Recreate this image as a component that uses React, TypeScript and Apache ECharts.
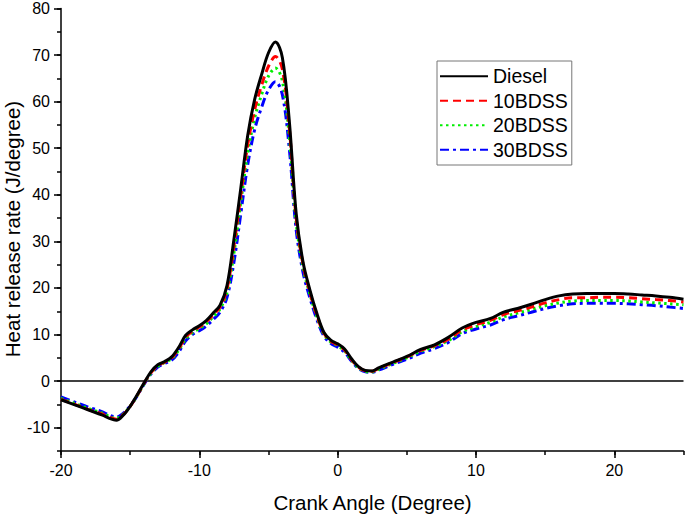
import React, { useEffect, useRef } from "react";
import * as echarts from "echarts";

const crankAngle = [
  -20, -19, -18, -17, -16.5, -16, -15.5, -15, -14.5, -14, -13.5, -13, -12.5, -12, -11.5, -11, -10.5, -10,
  -9.5, -9, -8.5, -8, -7.5, -7, -6.5, -6, -5.5, -5, -4.5, -4, -3.5, -3, -2.5, -2, -1.5, -1, -0.5, 0,
  0.5, 1, 1.5, 2, 2.5, 3, 4, 5, 6, 7, 8, 9, 10, 11, 12, 13, 14, 15, 16, 17, 18, 19, 20, 21, 22, 23, 24, 25,
];

const diesel = [
  -4.0, -5.1, -6.2, -7.3, -8.0, -8.4, -7.3, -5.4, -3.0, -0.4, 2.0, 3.5, 4.2, 5.2, 7.2, 9.8, 11.0, 11.9,
  13.0, 14.6, 16.3, 20.5, 30.4, 41.5, 52.8, 60.5, 65.8, 70.5, 72.8, 69.5, 56.0, 36.0, 25.5, 19.5, 14.5, 10.5, 8.8, 8.0,
  6.9, 4.8, 3.1, 2.3, 2.2, 2.9, 4.1, 5.3, 6.8, 7.8, 9.4, 11.4, 12.6, 13.4, 14.8, 15.6, 16.5, 17.5, 18.3, 18.7, 18.8, 18.8, 18.8, 18.7, 18.5, 18.3, 18.0, 17.6,
];

const bdss10 = [
  -3.9, -5.0, -6.1, -7.1, -7.8, -8.2, -7.2, -5.4, -3.1, -0.5, 1.8, 3.3, 4.1, 5.0, 6.9, 9.4, 10.7, 11.6,
  12.7, 14.2, 15.9, 19.8, 29.0, 40.0, 50.8, 58.3, 63.5, 67.6, 69.7, 67.0, 54.5, 35.0, 25.0, 19.0, 14.1, 10.3, 8.6, 7.8,
  6.7, 4.6, 3.0, 2.2, 2.1, 2.8, 4.0, 5.2, 6.6, 7.6, 9.0, 11.0, 12.1, 13.0, 14.3, 15.1, 15.9, 16.8, 17.5, 17.9, 17.9, 18.0, 18.0, 17.9, 17.7, 17.5, 17.3, 17.0,
];

const bdss20 = [
  -3.7, -4.8, -5.9, -6.9, -7.6, -8.0, -7.1, -5.4, -3.2, -0.6, 1.7, 3.2, 4.0, 4.8, 6.6, 9.0, 10.4, 11.3,
  12.3, 13.8, 15.5, 19.0, 27.5, 38.5, 49.0, 56.5, 61.5, 65.5, 67.2, 64.5, 52.5, 34.0, 24.3, 18.6, 13.8, 10.1, 8.4, 7.6,
  6.5, 4.5, 2.9, 2.1, 2.0, 2.6, 3.8, 5.0, 6.4, 7.4, 8.7, 10.6, 11.7, 12.6, 13.8, 14.6, 15.4, 16.2, 16.8, 17.2, 17.3, 17.3, 17.3, 17.2, 17.0, 16.8, 16.6, 16.4,
];

const bdss30 = [
  -3.4, -4.5, -5.6, -6.6, -7.3, -7.7, -6.9, -5.3, -3.2, -0.7, 1.5, 3.0, 3.8, 4.5, 6.2, 8.6, 10.0, 10.8,
  11.8, 13.2, 14.8, 18.0, 25.5, 36.0, 46.5, 54.0, 58.8, 62.5, 64.3, 61.5, 50.0, 32.5, 23.3, 17.8, 13.2, 9.7, 8.1, 7.3,
  6.2, 4.3, 2.7, 2.0, 1.9, 2.4, 3.6, 4.7, 6.0, 7.0, 8.3, 10.2, 11.2, 12.0, 13.2, 14.0, 14.8, 15.6, 16.2, 16.6, 16.7, 16.7, 16.7, 16.6, 16.4, 16.2, 15.9, 15.6,
];

const seriesNames = ["Diesel", "10BDSS", "20BDSS", "30BDSS"];
const xMajorTicks = [-20, -10, 0, 10, 20];
const yMajorTicks = [-10, 0, 10, 20, 30, 40, 50, 60, 70, 80];
const xTitle = "Crank Angle (Degree)";
const yTitle = "Heat release rate (J/degree)";

const FONT = "'Liberation Sans', Arial, Helvetica, sans-serif";

export default function App() {
  const ref = useRef<HTMLDivElement>(null);

  useEffect(() => {
    document.body.style.margin = "0";
    if (!ref.current) return;
    const chart = echarts.init(ref.current, undefined, { renderer: "svg" });

    const pair = (ys: number[]) => crankAngle.map((x, i) => [x, ys[i]]);
    const styles = [
      { color: "#000000", type: "solid" as any, width: 3 },
      { color: "#ff0000", type: [8, 5] as any, width: 3 },
      { color: "#00ee00", type: [2.5, 3.5] as any, width: 3 },
      { color: "#0000ff", type: [9, 4, 3, 4] as any, width: 3 },
    ];
    const datas = [diesel, bdss10, bdss20, bdss30];

    const series: any[] = datas.map((d, i) => ({
      name: seriesNames[i],
      type: "line",
      data: pair(d),
      smooth: 0.35,
      symbol: "none",
      xAxisIndex: 0,
      yAxisIndex: 0,
      z: 10 - i,
      lineStyle: { color: styles[i].color, type: styles[i].type, width: styles[i].width },
      itemStyle: { color: styles[i].color },
    }));
    series[0].markLine = {
      silent: true,
      symbol: ["none", "none"],
      label: { show: false },
      lineStyle: { color: "#000", type: "solid", width: 1.5 },
      data: [{ yAxis: 0 }],
    };

    const axisText = { color: "#000", fontSize: 16, fontFamily: FONT };

    chart.setOption({
      animation: false,
      grid: { left: 61, right: 1.5, top: 8.5, bottom: 63, containLabel: false, outerBoundsMode: "none" },
      legend: {
        orient: "vertical",
        left: 437,
        top: 61,
        data: seriesNames,
        itemWidth: 48,
        itemHeight: 14,
        itemGap: 4,
        padding: [5, 4, 5, 2],
        borderColor: "#777",
        borderWidth: 1,
        itemStyle: { opacity: 0 },
        textStyle: { color: "#000", fontSize: 19.5, fontFamily: FONT, lineHeight: 20.5 },
      },
      xAxis: [
        {
          type: "value",
          min: -20,
          max: 25,
          interval: 5,
          position: "bottom",
          axisLine: { show: true, onZero: false, lineStyle: { color: "#000", width: 1.5 } },
          axisTick: { show: true, length: 7, customValues: xMajorTicks, lineStyle: { color: "#000", width: 1.5 } },
          axisLabel: { show: true, customValues: xMajorTicks, margin: 11, ...axisText },
          splitLine: { show: false },
        },
        {
          type: "value",
          min: -20,
          max: 25,
          interval: 5,
          position: "bottom",
          axisLine: { show: false, onZero: false },
          axisTick: { show: true, length: 4, lineStyle: { color: "#000", width: 1.5 } },
          axisLabel: { show: false },
          splitLine: { show: false },
        },
      ],
      yAxis: [
        {
          type: "value",
          min: -15,
          max: 80,
          interval: 5,
          position: "left",
          axisLine: { show: true, onZero: false, lineStyle: { color: "#000", width: 1.5 } },
          axisTick: { show: true, length: 7, customValues: yMajorTicks, lineStyle: { color: "#000", width: 1.5 } },
          axisLabel: { show: true, customValues: yMajorTicks, margin: 11, ...axisText },
          splitLine: { show: false },
        },
        {
          type: "value",
          min: -15,
          max: 80,
          interval: 5,
          position: "left",
          axisLine: { show: false, onZero: false },
          axisTick: { show: true, length: 4, lineStyle: { color: "#000", width: 1.5 } },
          axisLabel: { show: false },
          splitLine: { show: false },
        },
      ],
      graphic: [
        {
          type: "text",
          x: 372.5,
          y: 492,
          style: {
            text: xTitle,
            textAlign: "center",
            textVerticalAlign: "top",
            fontSize: 20.5,
            fontFamily: FONT,
            fill: "#000",
          },
        },
        {
          type: "text",
          x: 12,
          y: 229,
          rotation: Math.PI / 2,
          style: {
            text: yTitle,
            textAlign: "center",
            textVerticalAlign: "middle",
            fontSize: 20.5,
            fontFamily: FONT,
            fill: "#000",
          },
        },
      ],
      series,
    });

    return () => chart.dispose();
  }, []);

  return <div ref={ref} style={{ width: 685, height: 514 }} />;
}
